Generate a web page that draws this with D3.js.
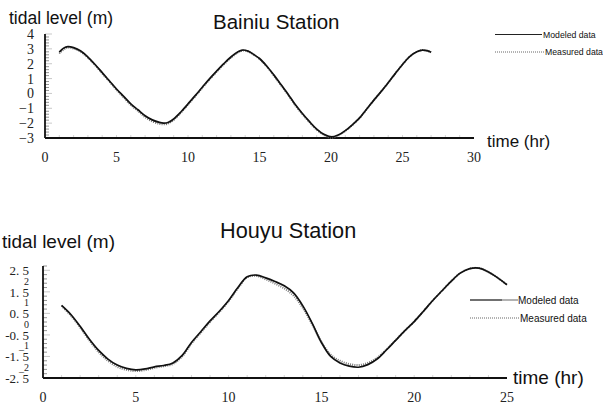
<!DOCTYPE html>
<html>
<head>
<meta charset="utf-8">
<script src="https://cdn.jsdelivr.net/npm/d3@7"></script>
<style>
  body { margin: 0; background: #fff; }
  svg { display: block; }
  .sans { font-family: Arial, "Liberation Sans", sans-serif; fill: #111; }
  .serif { font-family: "Liberation Serif", "Times New Roman", serif; fill: #222; }
</style>
</head>
<body>
<div class="chart"></div>
<script>
// Bainiu station (top panel)
const bainiuTime = [1.0, 1.3, 1.6, 2.0, 2.5, 3.0, 3.5, 4.0, 4.5, 5.0, 5.5, 6.0, 6.5, 7.0, 7.5, 8.0, 8.3, 8.6, 9.0, 9.5,
    10.0, 10.5, 11.0, 11.5, 12.0, 12.5, 13.0, 13.5, 13.8, 14.2, 14.6, 15.0, 15.5, 16.0, 16.5, 17.0, 17.5, 18.0, 18.5, 19.0,
    19.5, 20.0, 20.5, 21.0, 21.5, 22.0, 22.5, 23.0, 23.5, 24.0, 24.5, 25.0, 25.5, 26.0, 26.4, 26.7, 27.0];
const bainiuModeled = [2.78, 3.05, 3.15, 3.08, 2.85, 2.45, 1.95, 1.4, 0.85, 0.3, -0.2, -0.7, -1.1, -1.5, -1.78, -1.95, -2.0, -1.96, -1.72, -1.25,
    -0.7, -0.15, 0.42, 0.98, 1.5, 2.0, 2.45, 2.8, 2.92, 2.85, 2.62, 2.35, 1.85, 1.25, 0.6, -0.05, -0.75, -1.35, -1.9, -2.4,
    -2.75, -2.93, -2.8, -2.5, -2.1, -1.65, -1.05, -0.45, 0.12, 0.72, 1.35, 1.95, 2.48, 2.8, 2.92, 2.88, 2.77];
const bainiuMeasured = [2.68, 2.95, 3.08, 3.02, 2.8, 2.4, 1.9, 1.35, 0.8, 0.24, -0.27, -0.78, -1.18, -1.6, -1.88, -2.05, -2.08, -2.03, -1.78, -1.3,
    -0.75, -0.2, 0.37, 0.93, 1.45, 1.95, 2.4, 2.76, 2.88, 2.82, 2.6, 2.32, 1.82, 1.2, 0.55, -0.1, -0.8, -1.4, -1.95, -2.45,
    -2.8, -2.98, -2.84, -2.53, -2.12, -1.66, -1.06, -0.45, 0.12, 0.72, 1.35, 1.95, 2.48, 2.8, 2.92, 2.88, 2.77];
const bainiuXTicks = [0, 5, 10, 15, 20, 25, 30];
const bainiuYTicks = [4, 3, 2, 1, 0, -1, -2, -3];

// Houyu station (bottom panel)
const houyuTime = [1.0, 1.5, 2.0, 2.5, 3.0, 3.5, 4.0, 4.5, 5.0, 5.5, 6.0, 6.5, 7.0, 7.5, 8.0, 8.5, 9.0, 9.5, 10.0, 10.5,
    11.0, 11.5, 12.0, 12.5, 13.0, 13.5, 14.0, 14.5, 15.0, 15.5, 16.0, 16.5, 17.0, 17.5, 18.0, 18.5, 19.0, 19.5, 20.0, 20.5,
    21.0, 21.5, 22.0, 22.5, 23.0, 23.5, 24.0, 24.5, 25.0];
const houyuModeled = [0.87, 0.45, -0.1, -0.7, -1.22, -1.62, -1.9, -2.05, -2.12, -2.08, -1.98, -1.92, -1.8, -1.45, -0.85, -0.35, 0.15, 0.6, 1.1, 1.7,
    2.2, 2.28, 2.15, 1.98, 1.78, 1.45, 0.85, 0.05, -0.85, -1.5, -1.8, -1.95, -2.0, -1.88, -1.62, -1.2, -0.75, -0.3, 0.12, 0.6,
    1.1, 1.55, 2.0, 2.38, 2.58, 2.6, 2.42, 2.15, 1.83];
const houyuMeasured = [0.85, 0.4, -0.15, -0.76, -1.3, -1.7, -1.98, -2.12, -2.18, -2.13, -2.03, -1.95, -1.85, -1.5, -0.9, -0.4, 0.1, 0.56, 1.06, 1.66,
    2.17, 2.24, 2.08, 1.88, 1.66, 1.32, 0.75, 0.0, -0.82, -1.42, -1.7, -1.85, -1.9, -1.8, -1.56, -1.18, -0.74, -0.3, 0.12, 0.6,
    1.1, 1.55, 2.0, 2.38, 2.58, 2.6, 2.42, 2.15, 1.83];
const houyuXTicks = [0, 5, 10, 15, 20, 25];
const houyuHalfTicks = [2.5, 1.5, 0.5, -0.5, -1.5, -2.5];
const houyuIntTicks = [2, 1, 0, -1, -2];

const svg = d3.select('.chart').append('svg').attr('width', 603).attr('height', 405);

function panel(cfg) {
    const g = svg.append('g');
    const x = d3.scaleLinear().domain(cfg.xDomain).range(cfg.xRange);
    const y = d3.scaleLinear().domain(cfg.yDomain).range(cfg.yRange);
    const x0 = cfg.xRange[0], yb = cfg.yRange[0], yt = cfg.yRange[1];

    // minor ticks along the y axis, pointing inside
    g.append('g').selectAll('line').data(d3.range(cfg.yDomain[0], cfg.yDomain[1] + 0.001, 0.2))
        .enter().append('line')
        .attr('x1', x0).attr('x2', function (d, i) { return x0 + (i % 5 === 0 ? 7 : 4); })
        .attr('y1', function (d) { return y(d); }).attr('y2', function (d) { return y(d); })
        .style('stroke', function (d, i) { return i % 5 === 0 ? '#bbb' : '#777'; })
        .style('stroke-width', 0.8);

    // faint hour marks on the x axis
    g.append('g').selectAll('line').data(d3.range(cfg.xDomain[0] + 1, cfg.xDomain[1], 1))
        .enter().append('line')
        .attr('x1', function (d) { return x(d); }).attr('x2', function (d) { return x(d); })
        .attr('y1', yb).attr('y2', yb - 3)
        .style('stroke', '#ccc').style('stroke-width', 0.8);

    // axes lines
    g.append('line').attr('x1', x0).attr('x2', x0).attr('y1', yb).attr('y2', yt)
        .style('stroke', '#111').style('stroke-width', 1.8);
    g.append('line').attr('x1', x0).attr('x2', cfg.xRange[1]).attr('y1', yb).attr('y2', yb)
        .style('stroke', '#111').style('stroke-width', 2);

    const line = d3.line()
        .x(function (d) { return x(d[0]); })
        .y(function (d) { return y(d[1]); })
        .curve(d3.curveCatmullRom);

    g.append('path').datum(d3.zip(cfg.time, cfg.measured))
        .attr('d', line)
        .style('fill', 'none').style('stroke', '#777').style('stroke-width', 2)
        .style('stroke-dasharray', '1,1.2');

    g.append('path').datum(d3.zip(cfg.time, cfg.modeled))
        .attr('d', line)
        .style('fill', 'none').style('stroke', '#111').style('stroke-width', 1.7);

    // x tick labels
    g.append('g').selectAll('text').data(cfg.xTicks)
        .enter().append('text').attr('class', 'serif')
        .attr('x', function (d) { return x(d); }).attr('y', cfg.xLabelY)
        .attr('text-anchor', 'middle').style('font-size', '14px')
        .text(function (d) { return d; });

    return { g: g, x: x, y: y };
}

// ---------- Bainiu ----------
const topPanel = panel({
    xDomain: [0, 30], xRange: [45, 474],
    yDomain: [-3, 4], yRange: [138, 34],
    time: bainiuTime, modeled: bainiuModeled, measured: bainiuMeasured,
    xTicks: bainiuXTicks, xLabelY: 162
});

topPanel.g.append('g').selectAll('text').data(bainiuYTicks)
    .enter().append('text').attr('class', 'serif')
    .attr('x', 34).attr('y', function (d) { return topPanel.y(d); })
    .attr('dy', '0.36em').attr('text-anchor', 'end').style('font-size', '14px')
    .text(function (d) { return d < 0 ? '\u2212' + Math.abs(d) : d; });

topPanel.g.append('text').attr('class', 'sans').attr('x', 9).attr('y', 24)
    .style('font-size', '17.5px').text('tidal level (m)');
topPanel.g.append('text').attr('class', 'sans').attr('x', 213).attr('y', 29)
    .style('font-size', '20.5px').text('Bainiu Station');
topPanel.g.append('text').attr('class', 'sans').attr('x', 487).attr('y', 147)
    .style('font-size', '17px').text('time (hr)');

// legend top
topPanel.g.append('line').attr('x1', 495).attr('x2', 542).attr('y1', 34.5).attr('y2', 34.5)
    .style('stroke', '#222').style('stroke-width', 1.2);
topPanel.g.append('line').attr('x1', 495).attr('x2', 544).attr('y1', 52).attr('y2', 52)
    .style('stroke', '#666').style('stroke-width', 1).style('stroke-dasharray', '1,1');
topPanel.g.append('text').attr('class', 'sans').attr('x', 543).attr('y', 37.5)
    .style('font-size', '8.7px').text('Modeled data');
topPanel.g.append('text').attr('class', 'sans').attr('x', 545).attr('y', 55)
    .style('font-size', '8.7px').text('Measured data');

// ---------- Houyu ----------
const bottomPanel = panel({
    xDomain: [0, 25], xRange: [43, 507],
    yDomain: [-2.5, 2.7], yRange: [378, 266],
    time: houyuTime, modeled: houyuModeled, measured: houyuMeasured,
    xTicks: houyuXTicks, xLabelY: 402
});

bottomPanel.g.append('g').selectAll('text').data(houyuHalfTicks)
    .enter().append('text').attr('class', 'serif')
    .attr('x', 29).attr('y', function (d) { return bottomPanel.y(d); })
    .attr('dy', '0.36em').attr('text-anchor', 'end').style('font-size', '13px')
    .text(function (d) { return (d < 0 ? '-' : '') + Math.floor(Math.abs(d)) + '. 5'; });

bottomPanel.g.append('g').selectAll('text').data(houyuIntTicks)
    .enter().append('text').attr('class', 'serif')
    .attr('x', 29).attr('y', function (d) { return bottomPanel.y(d); })
    .attr('dy', '0.36em').attr('text-anchor', 'end').style('font-size', '10px')
    .text(function (d) { return d < 0 ? '_' + Math.abs(d) : d; });

bottomPanel.g.append('text').attr('class', 'sans').attr('x', 2).attr('y', 248)
    .style('font-size', '19px').text('tidal level (m)');
bottomPanel.g.append('text').attr('class', 'sans').attr('x', 220).attr('y', 238)
    .style('font-size', '21.7px').text('Houyu Station');
bottomPanel.g.append('text').attr('class', 'sans').attr('x', 513).attr('y', 384)
    .style('font-size', '19px').text('time (hr)');

// legend bottom
bottomPanel.g.append('line').attr('x1', 470).attr('x2', 502).attr('y1', 300).attr('y2', 300)
    .style('stroke', '#222').style('stroke-width', 1.3);
bottomPanel.g.append('line').attr('x1', 502).attr('x2', 518).attr('y1', 300).attr('y2', 300)
    .style('stroke', '#888').style('stroke-width', 1.3);
bottomPanel.g.append('line').attr('x1', 470).attr('x2', 520).attr('y1', 318).attr('y2', 318)
    .style('stroke', '#666').style('stroke-width', 1).style('stroke-dasharray', '1,1');
bottomPanel.g.append('text').attr('class', 'sans').attr('x', 518).attr('y', 303.5)
    .style('font-size', '10px').text('Modeled data');
bottomPanel.g.append('text').attr('class', 'sans').attr('x', 520).attr('y', 321.5)
    .style('font-size', '10px').text('Measured data');
</script>
</body>
</html>
